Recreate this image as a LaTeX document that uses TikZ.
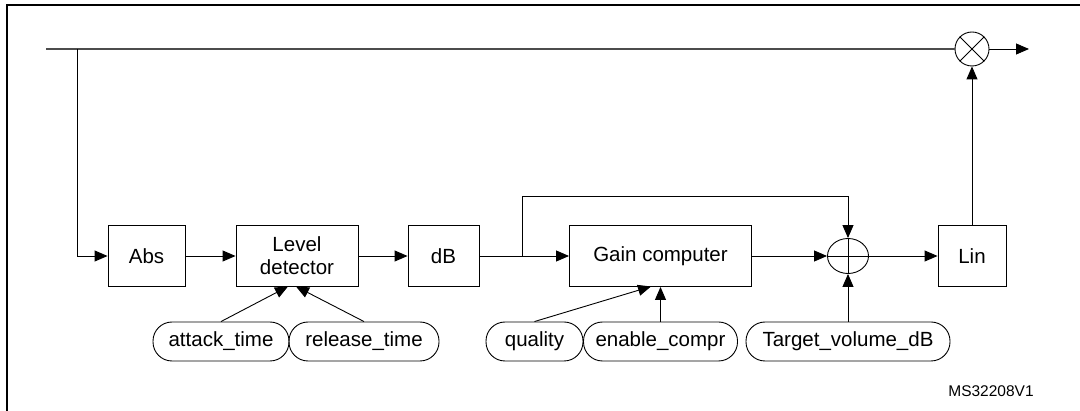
\documentclass[tikz,border=0pt]{standalone}
\usepackage{fontspec}
\setmainfont{Liberation Sans}
\usetikzlibrary{arrows.meta,shapes.geometric}
\begin{document}
\begin{tikzpicture}[x=1pt,y=-1pt, line width=0.9pt,
 blk/.style={draw, rectangle, inner sep=0pt, minimum height=61pt, font=\fontsize{20.5}{23}\selectfont, align=center},
 pill/.style={draw, rectangle, rounded corners=19pt, minimum height=39pt, inner sep=0pt, font=\fontsize{20.5}{23}\selectfont},
 arr/.style={-{Triangle[length=13pt,width=11pt]}},
 topwire/.style={line width=1.4pt, black!70}]
\useasboundingbox (0,0) rectangle (1080,411);
\begin{scope}
\clip (0,0) rectangle (1080,411);
\draw[line width=2pt] (7,5) rectangle (1100,430);
\end{scope}
% blocks
\node[blk, minimum width=77pt] (abs) at (146.5,256) {Abs};
\node[blk, minimum width=122pt] (lvl) at (297,256) {Level\\detector};
\node[blk, minimum width=71pt] (db) at (443.5,256) {dB};
\node[blk, minimum width=182pt] (gain) at (660.5,256) {Gain computer};
\node[blk, minimum width=68pt] (lin) at (972,256) {Lin};
\node[draw, ellipse, minimum width=41pt, minimum height=35pt, inner sep=0pt] (sum) at (848,256) {};
\draw (sum.north) -- (sum.south) (sum.west) -- (sum.east);
\node[draw, circle, minimum size=34pt, inner sep=0pt] (mul) at (972,49) {};
\draw (mul.north west) -- (mul.south east) (mul.north east) -- (mul.south west);
% parameters
\node[pill, minimum width=136pt] (attack) at (221,341.5) {attack\_time};
\node[pill, minimum width=150pt] (release) at (364,341.5) {release\_time};
\node[pill, minimum width=97pt] (quality) at (534.5,341.5) {quality};
\node[pill, minimum width=154pt] (enable) at (660.5,341.5) {enable\_compr};
\node[pill, minimum width=204pt] (target) at (848,341.5) {Target\_volume\_dB};
\node[font=\fontsize{15.5}{18}\selectfont, inner sep=0pt] (ms) at (991,391) {MS32208V1};
% wires
\coordinate (in) at (46,49);
\coordinate (br) at (77,49);
\coordinate (ff) at (522,256);
\coordinate (fftop) at (522,196);
\coordinate (out) at (1029,49);
\coordinate (l1) at (288,286.5);
\coordinate (l2) at (296,286.5);
\coordinate (g1) at (651,286.5);
\draw[topwire] (in) -- (mul.west);
\draw[arr] (br) |- (abs.west);
\draw[arr] (abs) -- (lvl);
\draw[arr] (lvl) -- (db);
\draw[arr] (db) -- (gain);
\draw[arr] (ff) -- (fftop) -| (sum.north);
\draw[arr] (gain) -- (sum);
\draw[arr] (sum) -- (lin);
\draw[arr] (lin) -- (mul);
\draw[arr] (mul) -- (out);
\draw[arr] (attack.north) -- (l1);
\draw[arr] (release.north) -- (l2);
\draw[arr] (quality.north) -- (g1);
\draw[arr] (enable.north) -- (gain.south);
\draw[arr] (target.north) -- (sum.south);
\end{tikzpicture}
\end{document}
